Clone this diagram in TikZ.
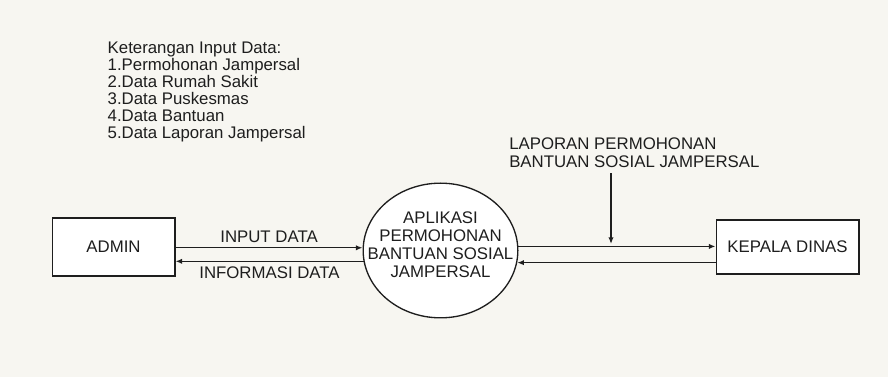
\documentclass[tikz,border=0pt]{standalone}
\usepackage{fontspec}
\setmainfont{Liberation Sans}
\usetikzlibrary{arrows.meta,shapes.geometric,calc}
\definecolor{paper}{RGB}{247,246,241}
\definecolor{ink}{RGB}{30,30,30}

\begin{document}
\begin{tikzpicture}[x=0.75pt,y=-0.75pt,
  every node/.style={font=\fontsize{12.6}{13.5}\selectfont,text=ink},
  entity/.style={draw=ink,line width=1pt,fill=white,inner sep=0pt},
  process/.style={draw=ink,line width=1pt,fill=white,ellipse,inner sep=0pt,
    minimum width=116pt,minimum height=101pt},
  flow/.style={draw=ink,line width=1pt,-{Latex[length=5pt,width=4pt]}}]
\fill[paper] (0,0) rectangle (888,377);
\useasboundingbox (0,0) rectangle (888,377);

% Legend
\node[anchor=north west,align=left,font=\fontsize{12.6}{12.75}\selectfont] (legend) at (103,37)
  {Keterangan Input Data:\\1.Permohonan Jampersal\\2.Data Rumah Sakit\\
   3.Data Puskesmas\\4.Data Bantuan\\5.Data Laporan Jampersal};

% Entities and process
\node[entity,minimum width=92pt,minimum height=43.5pt] (admin) at (113.5,247) {ADMIN};
\node[process,label={[align=center,yshift=4pt]center:APLIKASI\\PERMOHONAN\\BANTUAN SOSIAL\\JAMPERSAL}]
  (proc) at (440.5,250.5) {};
\node[entity,minimum width=107pt,minimum height=40.5pt] (kepala) at (787.5,247) {KEPALA DINAS};

% Data flows
\draw[flow] (proc.178 -| admin.east) -- (proc.178) node[midway,above]{INPUT DATA};
\draw[flow] (proc.188) -- (proc.188 -| admin.east) node[midway,below]{INFORMASI DATA};
\draw[flow] (proc.3) -- (proc.3 -| kepala.west);
\draw[flow] (proc.351 -| kepala.west) -- (proc.351);

% Report
\node[anchor=north west,align=left,inner sep=0pt] (lap) at (509,138)
  {LAPORAN PERMOHONAN\\BANTUAN SOSIAL JAMPERSAL};
\coordinate (lapend) at (611,244);
\draw[flow] ($(lapend |- lap.south)+(0,5)$) -- (lapend);
\end{tikzpicture}
\end{document}
